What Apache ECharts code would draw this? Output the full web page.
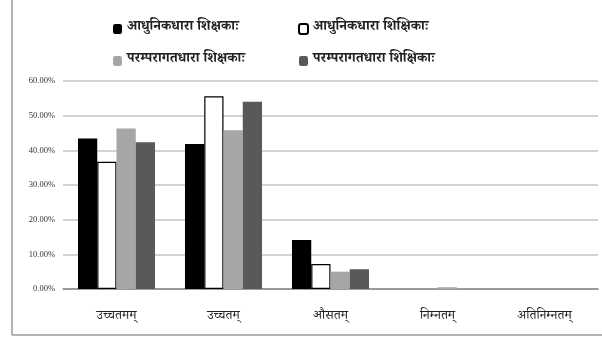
<!DOCTYPE html>
<html><head><meta charset="utf-8">
<script src="https://cdn.jsdelivr.net/npm/echarts@6/dist/echarts.min.js"></script>
<style>html,body{margin:0;padding:0;background:#fff}#c{width:602px;height:338px}</style>
</head><body><div id="c"></div>
<script>
const categories = ['उच्चतमम्', 'उच्चतम्', 'औसतम्', 'निम्नतम्', 'अतिनिम्नतम्'];
const seriesNames = ['आधुनिकधारा शिक्षकाः', 'आधुनिकधारा शिक्षिकाः', 'परम्परागतधारा शिक्षकाः', 'परम्परागतधारा शिक्षिकाः'];
const modernMale = [43.4, 41.8, 14.1, 0, 0];
const modernFemale = [36.7, 55.6, 7.2, 0, 0];
const tradMale = [46.3, 45.8, 5.0, 0.5, 0];
const tradFemale = [42.3, 54.0, 5.7, 0, 0];
const yTicks = [0, 10, 20, 30, 40, 50, 60];

const font = '"Noto Serif Devanagari", "Noto Sans Devanagari", "Noto Sans", "Liberation Serif", serif';
const chart = echarts.init(document.getElementById('c'), null, {renderer: 'canvas'});
const styles = [
  {color: '#000000'},
  {color: '#ffffff', borderColor: '#000000', borderWidth: 1.2},
  {color: '#a6a6a6'},
  {color: '#595959'}
];
const data = [modernMale, modernFemale, tradMale, tradFemale];
const legendText = {fontFamily: font, fontSize: 14, fontWeight: 'bold', color: '#222'};
chart.setOption({
  animation: false,
  backgroundColor: '#fff',
  legend: [
    {data: [seriesNames[0], seriesNames[2]], orient: 'vertical', left: 108, top: 17, itemWidth: 9, itemHeight: 10, itemGap: 18, textStyle: legendText},
    {data: [seriesNames[1], seriesNames[3]], orient: 'vertical', left: 293, top: 17, itemWidth: 9, itemHeight: 10, itemGap: 18, textStyle: legendText}
  ],
  grid: {left: 63, right: 4, top: 81, bottom: 49},
  xAxis: {
    type: 'category', data: categories,
    axisLine: {lineStyle: {color: '#888', width: 1.5}},
    axisTick: {show: false},
    axisLabel: {margin: 22, fontFamily: font, fontSize: 13, color: '#222'}
  },
  yAxis: {
    type: 'value', min: 0, max: 60, interval: 10,
    axisLine: {show: false}, axisTick: {show: false},
    splitLine: {lineStyle: {color: '#c4c4c4', width: 1.5}},
    axisLabel: {margin: 8, fontFamily: '"Liberation Serif", serif', fontSize: 8.5, color: '#333',
      formatter: v => v.toFixed(2) + '%'}
  },
  series: data.map((d, i) => ({
    name: seriesNames[i], type: 'bar',
    data: d.map(v => v === 0 ? {value: v, itemStyle: {borderWidth: 0}} : v),
    itemStyle: styles[i],
    barGap: '0%', barCategoryGap: '28%'
  })),
  graphic: [
    {type: 'line', shape: {x1: 12, y1: 0, x2: 12, y2: 335}, style: {stroke: '#999', lineWidth: 1.5}},
    {type: 'line', shape: {x1: 12, y1: 335, x2: 602, y2: 335}, style: {stroke: '#999', lineWidth: 1.5}}
  ]
});
</script></body></html>
